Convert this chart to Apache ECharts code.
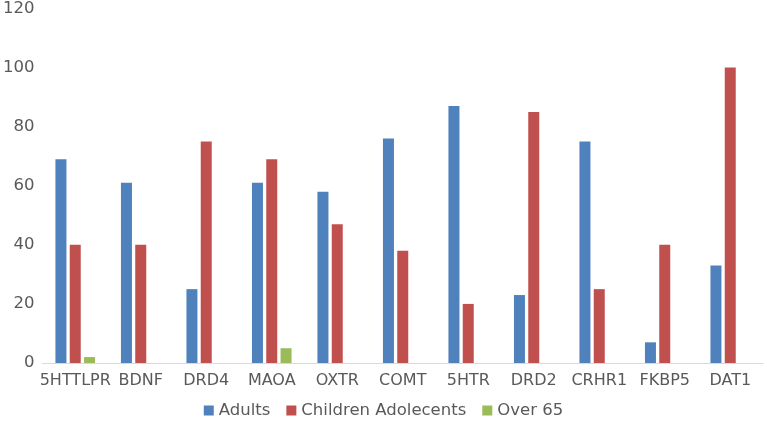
<!DOCTYPE html>
<html>
<head>
<meta charset="utf-8">
<script src="https://cdn.jsdelivr.net/npm/echarts@6/dist/echarts.min.js"></script>
<style>html,body{margin:0;padding:0;background:#fff}#c{width:767px;height:426px}</style>
</head>
<body>
<div id="c"></div>
<script>
var categories = ['5HTTLPR','BDNF','DRD4','MAOA','OXTR','COMT','5HTR','DRD2','CRHR1','FKBP5','DAT1'];
var adults = [69, 61, 25, 61, 58, 76, 87, 23, 75, 7, 33];
var children = [40, 40, 75, 69, 47, 38, 20, 85, 25, 40, 100];
var over65 = [2, 0, 0, 5, 0, 0, 0, 0, 0, 0, 0];
var yTicks = [0, 20, 40, 60, 80, 100, 120];

var chart = echarts.init(document.getElementById('c'), null, {renderer:'canvas'});
var font = '"DejaVu Sans", Verdana, sans-serif';
chart.setOption({
  animation: false,
  textStyle: {fontFamily: font},
  grid: {left: 42, right: 4, top: 7, bottom: 63},
  legend: {
    bottom: 2, left: 'center',
    itemWidth: 10, itemHeight: 10, itemGap: 16,
    icon: 'rect',
    textStyle: {fontFamily: font, fontSize: 16.5, color: '#595959'},
    data: ['Adults','Children Adolecents','Over 65']
  },
  xAxis: {
    type: 'category', data: categories,
    axisLine: {lineStyle: {color: '#D9D9D9'}},
    axisTick: {show: false},
    axisLabel: {fontFamily: font, fontSize: 16, color: '#595959', interval: 0, margin: 10}
  },
  yAxis: {
    type: 'value', min: yTicks[0], max: yTicks[yTicks.length-1], interval: 20,
    splitLine: {show: false},
    axisLine: {show: false}, axisTick: {show: false},
    axisLabel: {fontFamily: font, fontSize: 16.5, color: '#595959', margin: 8}
  },
  series: [
    {name: 'Adults', type: 'bar', data: adults, barWidth: 11, barGap: '30%', itemStyle: {color: '#4F81BD'}},
    {name: 'Children Adolecents', type: 'bar', data: children, barWidth: 11, barGap: '30%', itemStyle: {color: '#C0504D'}},
    {name: 'Over 65', type: 'bar', data: over65, barWidth: 11, barGap: '30%', itemStyle: {color: '#9BBB59'}}
  ]
});
</script>
</body>
</html>
